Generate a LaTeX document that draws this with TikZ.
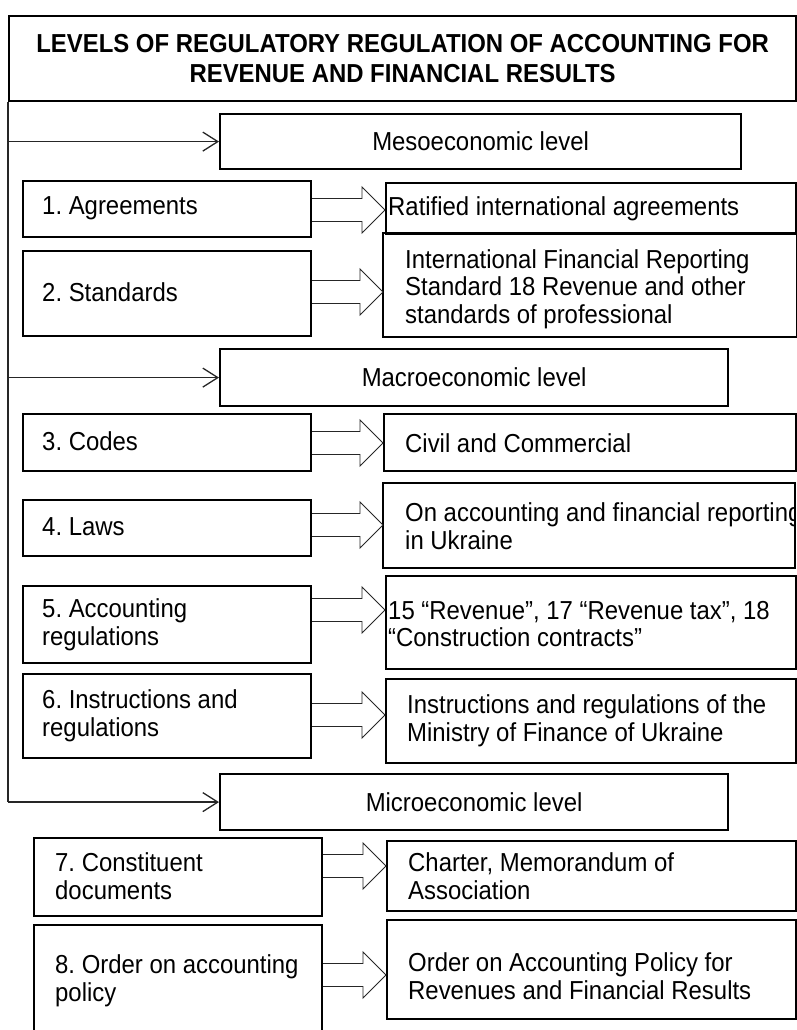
\documentclass[tikz,border=0pt]{standalone}
\usepackage{fontspec}
\setmainfont{Liberation Sans}[FakeStretch=0.92]
\usetikzlibrary{arrows.meta,calc}
\frenchspacing
\tikzset{
  bx/.style={draw=black, line width=2.2pt, rectangle, inner sep=0pt, anchor=north west, fill=none},
  lvbox/.style={bx, align=center, font=\fontsize{26}{27.5}\selectfont},
  ttl/.style={bx, align=center, font=\fontsize{26}{30}\selectfont\bfseries},
  txt/.style={inner sep=0pt, anchor=west, align=left, font=\fontsize{26}{27.5}\selectfont},
  lvline/.style={draw=black!85, line width=1.3pt},
  lvarrow/.style={lvline, -{Straight Barb[length=15pt,width=19pt]}},
  barrow/.style={draw=black!85, line width=0.9pt, line join=miter},
  bord/.style={draw=black, line width=2.2pt}
}
\newcommand\blockarr[3]{%
  \draw[barrow] ($(#1.east |- 0,#3)+(0,-11.5)$) -- ($(#2.west |- 0,#3)+(-23,-11.5)$)
    -- ($(#2.west |- 0,#3)+(-23,-23)$) -- (#2.west |- 0,#3)
    -- ($(#2.west |- 0,#3)+(-23,23)$) -- ($(#2.west |- 0,#3)+(-23,11.5)$)
    -- ($(#1.east |- 0,#3)+(0,11.5)$);}
\begin{document}
\begin{tikzpicture}[x=1pt,y=-1pt]
\useasboundingbox (0,0) rectangle (797,1030);

% title
\node[ttl, minimum width=787pt, minimum height=85pt] (title) at (8,15)
  {LEVELS OF REGULATORY REGULATION OF ACCOUNTING FOR\\REVENUE AND FINANCIAL RESULTS};

% level boxes
\node[lvbox, minimum width=521pt, minimum height=55pt] (meso) at (219,113) {Mesoeconomic level};
\node[lvbox, minimum width=508pt, minimum height=57pt] (macro) at (219,348) {Macroeconomic level};
\node[lvbox, minimum width=508pt, minimum height=56pt] (micro) at (219,773) {Microeconomic level};

% level connectors
\draw[lvline] (title.south west) -- (title.south west |- micro.west);
\draw[lvarrow] (title.south west |- meso.west) -- (meso.west);
\draw[lvarrow] (title.south west |- macro.west) -- (macro.west);
\draw[lvarrow] (title.south west |- micro.west) -- (micro.west);

% left boxes
\node[bx, minimum width=288pt, minimum height=56pt] (b1) at (22,180) {};
\node[bx, minimum width=288pt, minimum height=85pt] (b2) at (22,250) {};
\node[bx, minimum width=288pt, minimum height=57pt] (b3) at (22,413) {};
\node[bx, minimum width=288pt, minimum height=56pt] (b4) at (22,499) {};
\node[bx, minimum width=288pt, minimum height=77pt] (b5) at (22,585) {};
\node[bx, minimum width=288pt, minimum height=84pt] (b6) at (22,673) {};
\node[bx, minimum width=288pt, minimum height=78pt] (b7) at (33,837) {};
\node[bx, minimum width=288pt, minimum height=125pt] (b8) at (33,924) {};

\node[txt] (t1) at (42,208) {1. Agreements};
\node[txt] (t2) at (42,292) {2. Standards};
\node[txt] (t3) at (42,441) {3. Codes};
\node[txt] (t4) at (42,527) {4. Laws};
\node[txt] (t5) at (42,625) {5. Accounting\\regulations};
\node[txt] (t6) at (42,716) {6. Instructions and\\regulations};
\node[txt] (t7) at (55,876) {7. Constituent\\documents};
\node[txt] (t8) at (55,981) {8. Order on accounting\\policy};

% right boxes
\node[bx, minimum width=410pt, minimum height=51pt] (r1) at (385,182) {};
\node[bx, draw=none, minimum width=412pt, minimum height=102pt] (r2) at (383,233) {};
\node[bx, minimum width=412pt, minimum height=57pt] (r3) at (383,413) {};
\node[bx, draw=none, minimum width=410pt, minimum height=83pt] (r4) at (383,483) {};
\node[bx, minimum width=410pt, minimum height=93pt] (r5) at (385,575) {};
\node[bx, minimum width=410pt, minimum height=84pt] (r6) at (385,678) {};
\node[bx, minimum width=409pt, minimum height=70pt] (r7) at (386,840) {};
\node[bx, minimum width=409pt, minimum height=99pt] (r8) at (386,919) {};

\node[txt] (rt1) at (388,209) {Ratified international agreements};
\begin{scope}
  \clip (r2.north west) rectangle (r2.south east);
  \node[txt] (rt2) at (405,289) {International Financial Reporting\\Standard 18 Revenue and other\\standards of professional};
\end{scope}
\node[txt] (rt3) at (405,443) {Civil and Commercial};
\begin{scope}
  \clip (r4.north west) rectangle ([xshift=-1pt]r4.south east);
  \node[txt] (rt4) at (405,526) {On accounting and financial reporting\\in Ukraine};
\end{scope}
\node[txt] (rt5) at (388,624) {15 “Revenue”, 17 “Revenue tax”, 18\\“Construction contracts”};
\node[txt] (rt6) at (407,721) {Instructions and regulations of the\\Ministry of Finance of Ukraine};
\node[txt] (rt7) at (408,876) {Charter, Memorandum of\\Association};
\node[txt] (rt8) at (408,976) {Order on Accounting Policy for\\Revenues and Financial Results};

% borders of the clipped boxes
\draw[bord] (r2.north west) rectangle (r2.south east);
\draw[bord] (r4.north west) rectangle (r4.south east);

% block arrows
\blockarr{b1}{r1}{210}
\blockarr{b2}{r2}{292}
\blockarr{b3}{r3}{443}
\blockarr{b4}{r4}{525}
\blockarr{b5}{r5}{610}
\blockarr{b6}{r6}{715}
\blockarr{b7}{r7}{866}
\blockarr{b8}{r8}{975}
\end{tikzpicture}
\end{document}
